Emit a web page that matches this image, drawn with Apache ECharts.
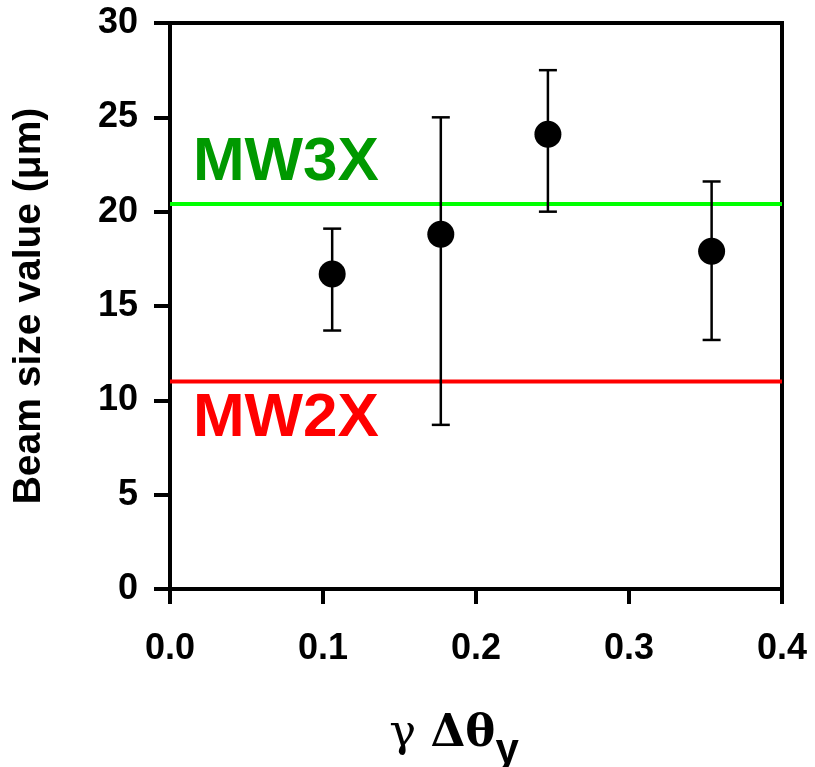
<!DOCTYPE html>
<html><head><meta charset="utf-8">
<script src="https://cdn.jsdelivr.net/npm/echarts@6/dist/echarts.min.js"></script>
<style>html,body{margin:0;padding:0;background:#fff}#c{width:815px;height:767px}</style>
</head><body><div id="c"></div>
<script>
// ---- data ----
const xValues = [0.106, 0.177, 0.247, 0.354];
const yValues = [16.7, 18.8, 24.1, 17.9];
const yLower  = [13.7, 8.7, 20.0, 13.2];
const yUpper  = [19.1, 25.0, 27.5, 21.6];
const mw3xLevel = 20.4;
const mw2xLevel = 11.0;
const xRange = [0, 0.4];
const yRange = [0, 30];
const lineLabels = ['MW3X', 'MW2X'];

const chart = echarts.init(document.getElementById('c'), null, {renderer: 'canvas'});
const sansFont = "'Liberation Sans', Arial, sans-serif";

const pointData = xValues.map((x, i) => [x, yValues[i]]);
const barData = xValues.map((x, i) => [x, yLower[i], yUpper[i]]);

const option = {
  animation: false,
  backgroundColor: '#fff',
  grid: {left: 170, right: 33, top: 23, bottom: 178, outerBoundsMode: 'none', containLabel: false,
    show: true, borderColor: '#000', borderWidth: 4, backgroundColor: 'transparent'},
  xAxis: {
    type: 'value', min: xRange[0], max: xRange[1], interval: 0.1,
    splitLine: {show: false},
    axisLine: {lineStyle: {color: '#000', width: 4}},
    axisTick: {inside: false, length: 15, lineStyle: {color: '#000', width: 4}},
    axisLabel: {color: '#000', fontFamily: sansFont, fontWeight: 'bold', fontSize: 36, margin: 42,
      formatter: v => v.toFixed(1)},
    name: '{r|γ }{g|Δθ}{s|y}', nameLocation: 'middle', nameGap: 129,
    nameTextStyle: {
      padding: [0, 44, 0, 0],
      rich: {
        r: {fontFamily: "'DejaVu Serif', serif", fontWeight: 'normal', fontSize: 45, color: '#000', lineHeight: 54, verticalAlign: 'bottom', padding: [0, 0, 15, 0]},
        g: {fontFamily: "'DejaVu Serif', serif", fontWeight: 'bold', fontSize: 45, color: '#000', lineHeight: 54, verticalAlign: 'bottom', padding: [0, 0, 15, 0]},
        s: {fontFamily: sansFont, fontWeight: 'bold', fontSize: 42, color: '#000', lineHeight: 54, verticalAlign: 'bottom'}
      }
    }
  },
  yAxis: {
    type: 'value', min: yRange[0], max: yRange[1], interval: 5,
    splitLine: {show: false},
    axisLine: {lineStyle: {color: '#000', width: 4}},
    axisTick: {inside: false, length: 16, lineStyle: {color: '#000', width: 4}},
    axisLabel: {color: '#000', fontFamily: sansFont, fontWeight: 'bold', fontSize: 36, margin: 32},
    name: 'Beam size value (μm)', nameLocation: 'middle', nameGap: 121,
    nameTextStyle: {color: '#000', fontFamily: sansFont, fontWeight: 'bold', fontSize: 39}
  },
  series: [
    {type: 'line', data: [[xRange[0], mw3xLevel], [xRange[1], mw3xLevel]], symbol: 'none',
      lineStyle: {color: '#00ff00', width: 4}, z: 1, silent: true},
    {type: 'line', data: [[xRange[0], mw2xLevel], [xRange[1], mw2xLevel]], symbol: 'none',
      lineStyle: {color: '#ff0000', width: 4}, z: 1, silent: true},
    {type: 'custom', data: barData, z: 3,
      renderItem: function (params, api) {
        const x = api.value(0);
        const lo = api.coord([x, api.value(1)]);
        const hi = api.coord([x, api.value(2)]);
        const hw = 9;
        const st = {stroke: '#000', lineWidth: 2.5};
        return {type: 'group', children: [
          {type: 'line', shape: {x1: lo[0], y1: lo[1], x2: hi[0], y2: hi[1]}, style: st},
          {type: 'line', shape: {x1: hi[0] - hw, y1: hi[1], x2: hi[0] + hw, y2: hi[1]}, style: st},
          {type: 'line', shape: {x1: lo[0] - hw, y1: lo[1], x2: lo[0] + hw, y2: lo[1]}, style: st}
        ]};
      }},
    {type: 'scatter', data: pointData, symbol: 'circle', symbolSize: 27,
      itemStyle: {color: '#000', opacity: 1}, z: 4}
  ]
};
chart.setOption(option);

// annotation texts anchored at data coordinates
const p3 = chart.convertToPixel({gridIndex: 0}, [0.015, 22.56]);
const p2 = chart.convertToPixel({gridIndex: 0}, [0.015, 9.02]);
chart.setOption({graphic: [
  {type: 'text', x: p3[0], y: p3[1], style: {text: lineLabels[0], fill: '#009900', font: "bold 62px 'Liberation Sans', Arial, sans-serif", textAlign: 'left', textVerticalAlign: 'middle'}},
  {type: 'text', x: p2[0], y: p2[1], style: {text: lineLabels[1], fill: '#ff0000', font: "bold 62px 'Liberation Sans', Arial, sans-serif", textAlign: 'left', textVerticalAlign: 'middle'}}
]});
</script>
</body></html>
